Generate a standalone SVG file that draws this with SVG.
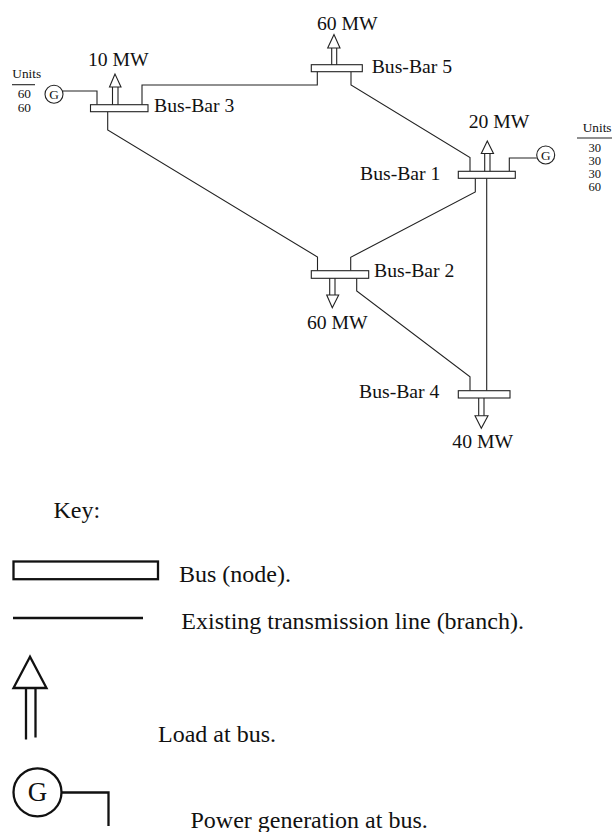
<svg xmlns="http://www.w3.org/2000/svg" width="612" height="832" viewBox="0 0 612 832">
<style>
text{font-family:"Liberation Serif","Times New Roman",serif;fill:#111}
.l{font-size:19.7px}
.s{font-size:13.3px}
.d{font-size:12.6px}
.c{fill:none;stroke:#222;stroke-width:1.1}
.b{fill:#fff;stroke:#222;stroke-width:1.1}
.k{fill:none;stroke:#111;stroke-width:2.3}
.kt{font-size:24px}
</style>
<rect width="612" height="832" fill="#fff"/>
<g id="connectors">
<path class="c" d="M142 104.7V85H317.3V71.7"/>
<path class="c" d="M351 71.7V85L470 157.5V171.3"/>
<path class="c" d="M107.7 111.7V130L317.5 257V270.7"/>
<path class="c" d="M475.3 178.3V192L350.7 257.3V270.7"/>
<path class="c" d="M486.7 178.3V390.7"/>
<path class="c" d="M356.7 278.3V291L470 376.7V390.7"/>
<path class="c" d="M63 91H97V104.7"/>
<path class="c" d="M536.7 158H509.3V171.3"/>
</g>
<g id="bus3">
<rect class="b" x="90.5" y="104.7" width="57.5" height="7"/>
<path class="c" d="M112.5 104.7V87M118 104.7V87"/>
<path class="c" d="M115 74L109.5 87H121Z"/>
<text class="l" x="88" y="66">10 MW</text>
<text class="l" x="154" y="111.7">Bus-Bar 3</text>
</g>
<g id="gen3">
<circle class="c" cx="54" cy="94.3" r="9"/>
<text class="s" x="54" y="99" text-anchor="middle">G</text>
<text class="s" x="12.3" y="77.7">Units</text>
<path class="c" d="M12 84.7H35"/>
<text class="s" x="17.7" y="98">60</text>
<text class="s" x="17.7" y="112">60</text>
</g>
<g id="bus5">
<rect class="b" x="311.3" y="64.7" width="51" height="7"/>
<path class="c" d="M331.7 64.7V48M336.7 64.7V48"/>
<path class="c" d="M334 34.5L327.7 48H340Z"/>
<text class="l" x="317" y="30">60 MW</text>
<text class="l" x="371.7" y="72.7">Bus-Bar 5</text>
</g>
<g id="bus1">
<rect class="b" x="458.3" y="171.3" width="57" height="7"/>
<path class="c" d="M484.7 171.3V153.5M490 171.3V153.5"/>
<path class="c" d="M487.3 141L481.3 153.5H493.5Z"/>
<text class="l" x="468.7" y="128">20 MW</text>
<text class="l" x="360" y="180">Bus-Bar 1</text>
</g>
<g id="gen1">
<circle class="c" cx="545.7" cy="155" r="9"/>
<text class="s" x="545.7" y="159.7" text-anchor="middle">G</text>
<text class="s" x="582.7" y="131.7">Units</text>
<path class="c" d="M577 138H612"/>
<text class="d" x="588.5" y="151.7">30</text>
<text class="d" x="588.5" y="164.7">30</text>
<text class="d" x="588.5" y="177.7">30</text>
<text class="d" x="588.5" y="191">60</text>
</g>
<g id="bus2">
<rect class="b" x="311.3" y="270.7" width="57.4" height="7.6"/>
<path class="c" d="M329.7 278.3V295M335 278.3V295"/>
<path class="c" d="M332.3 307.7L326.7 295H338.7Z"/>
<text class="l" x="307" y="329.3">60 MW</text>
<text class="l" x="374" y="277.3">Bus-Bar 2</text>
</g>
<g id="bus4">
<rect class="b" x="458.3" y="390.7" width="51.7" height="7.3"/>
<path class="c" d="M478.7 398V415.7M484 398V415.7"/>
<path class="c" d="M481.3 428.3L475 415.7H488Z"/>
<text class="l" x="452.3" y="448.3">40 MW</text>
<text class="l" x="359" y="398.3">Bus-Bar 4</text>
</g>
<g id="key">
<text class="kt" x="53.5" y="518.3">Key:</text>
<rect class="k" x="13.5" y="561.5" width="144.5" height="17.7"/>
<text class="kt" x="179" y="581.7">Bus (node).</text>
<path class="k" d="M13 618H143"/>
<text class="kt" x="181.3" y="629">Existing transmission line (branch).</text>
<path class="k" d="M30 656.7L13.5 688H46.5Z"/>
<path class="k" d="M26 689V739.5M35.5 688V737.5"/>
<text class="kt" x="158" y="741.7">Load at bus.</text>
<circle class="k" cx="37.5" cy="792.3" r="24"/>
<text x="37.5" y="801" text-anchor="middle" font-size="27">G</text>
<path class="k" d="M62 792.5H108.5V826"/>
<text class="kt" x="190.5" y="828">Power generation at bus.</text>
</g>
</svg>
